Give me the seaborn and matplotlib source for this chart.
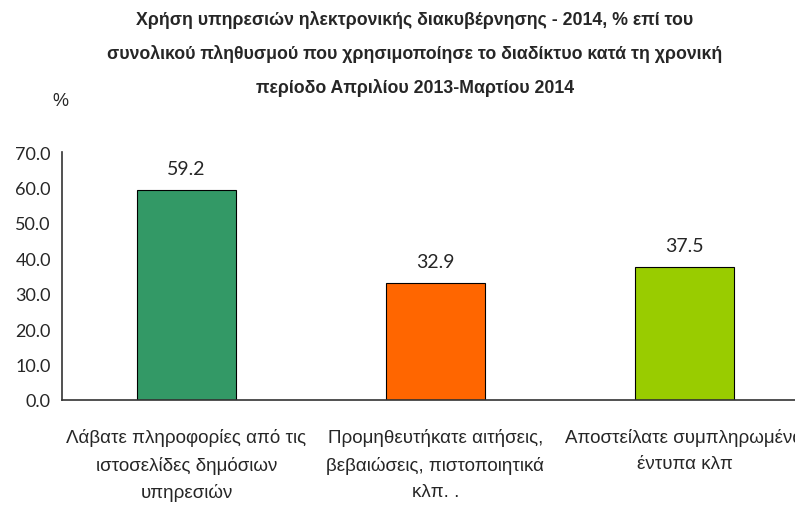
import matplotlib
matplotlib.use("Agg")
import matplotlib.pyplot as plt
import seaborn as sns
import pandas as pd

categories = [
    "Λάβατε πληροφορίες από τις\nιστοσελίδες δημόσιων\nυπηρεσιών",
    "Προμηθευτήκατε αιτήσεις,\nβεβαιώσεις, πιστοποιητικά\nκλπ. .",
    "Αποστείλατε συμπληρωμένα\nέντυπα κλπ",
]
values = [59.2, 32.9, 37.5]
colors = ["#339966", "#FF6600", "#99CC00"]
yticks = [0, 10, 20, 30, 40, 50, 60, 70]

title = ("Χρήση υπηρεσιών ηλεκτρονικής διακυβέρνησης - 2014, % επί του\n"
         "συνολικού πληθυσμού που χρησιμοποίησε το διαδίκτυο κατά τη χρονική\n"
         "περίοδο Απριλίου 2013-Μαρτίου 2014")

sns.set_style("white")
plt.rcParams['font.family'] = ['Liberation Sans', 'DejaVu Sans']

df = pd.DataFrame({"cat": categories, "val": values})

fig = plt.figure(figsize=(7.95, 5.06), dpi=100)
W, H = 795, 506
left, right, top, bottom = 62, 809, 153, 401
ax = fig.add_axes([left / W, 1 - bottom / H, (right - left) / W, (bottom - top) / H])

sns.barplot(data=df, x="cat", y="val", hue="cat", palette=colors, legend=False,
            width=0.4, edgecolor="black", linewidth=0.8, saturation=1, ax=ax)

ax.set_ylim(0, 70)
ax.set_xlim(-0.5, 2.5)
ax.set_yticks(yticks)
ax.set_yticklabels([f"{v:.1f}" for v in yticks], fontsize=13, family=['Lato', 'DejaVu Sans'])
ax.set_xlabel("")
ax.set_ylabel("")
ax.set_xticks([-0.5, 0.5, 1.5, 2.5], minor=False)
ax.set_xticklabels([])
ax.set_xticks([0, 1, 2], minor=True)
ax.set_xticklabels(categories, minor=True, fontsize=13.5, linespacing=1.7)
ax.tick_params(axis='x', which='minor', length=0, pad=20)
ax.tick_params(axis='x', which='major', length=7, width=1, color="#333333", direction='out')
ax.tick_params(axis='y', length=5, width=1, color="#333333", direction='out', pad=3)

for s in ["top", "right"]:
    ax.spines[s].set_visible(False)
for s in ["left", "bottom"]:
    ax.spines[s].set_color("#333333")
    ax.spines[s].set_linewidth(1.2)

for i, v in enumerate(values):
    ax.text(i, v + 3.8, f"{v:.1f}", ha="center", va="bottom", fontsize=14,
            family=['Lato', 'DejaVu Sans'])

fig.text(415 / W, 1 - 11 / H, title, ha="center", va="top", fontsize=12.8,
         fontweight="bold", linespacing=2.15)
fig.text(52 / W, 1 - 102 / H, "%", ha="left", va="center", fontsize=13)

fig.savefig("out.png", dpi=100)
